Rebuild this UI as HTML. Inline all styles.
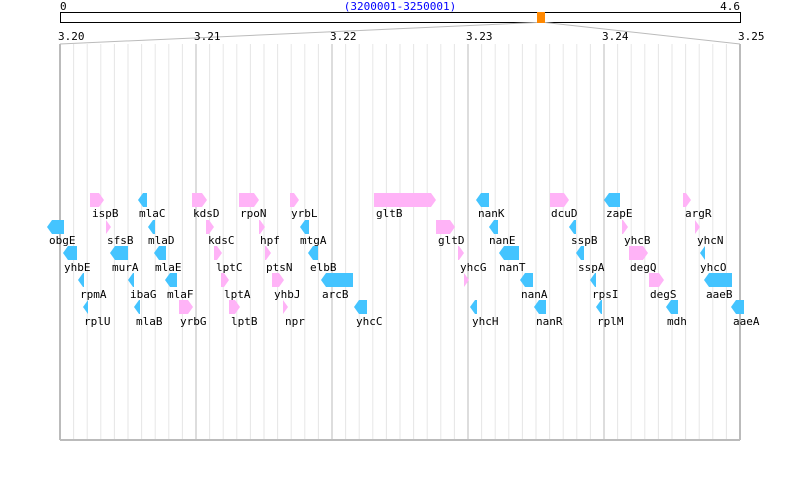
<!DOCTYPE html>
<html><head><meta charset="utf-8"><style>
html,body{margin:0;padding:0;background:#fff;width:800px;height:500px;overflow:hidden}
svg text{font-family:"DejaVu Sans Mono","Liberation Mono",monospace;font-size:11px;fill:#000}
</style></head><body>
<svg id="s" width="800" height="500" xmlns="http://www.w3.org/2000/svg">
<g id="grid"></g>
<rect x="60.5" y="12.5" width="680" height="10" fill="none" stroke="#000" stroke-width="1"/>
<rect x="537" y="12" width="8" height="11" fill="#ff8800"/>
<line x1="537" y1="22.5" x2="60" y2="44" stroke="#bbb"/>
<line x1="545" y1="22.5" x2="740" y2="44" stroke="#bbb"/>
<text x="60" y="10">0</text>
<text x="400" y="10" text-anchor="middle" style="fill:#0000ff">(3200001-3250001)</text>
<text x="740" y="10" text-anchor="end">4.6</text>
<text x="58" y="40">3.20</text>
<text x="194" y="40">3.21</text>
<text x="330" y="40">3.22</text>
<text x="466" y="40">3.23</text>
<text x="602" y="40">3.24</text>
<text x="738" y="40">3.25</text>
<g id="genes"></g>
<g>
<text x="92" y="217">ispB</text><text x="139" y="217">mlaC</text><text x="193" y="217">kdsD</text><text x="240" y="217">rpoN</text><text x="291" y="217">yrbL</text><text x="376" y="217">gltB</text><text x="478" y="217">nanK</text><text x="551" y="217">dcuD</text><text x="606" y="217">zapE</text><text x="685" y="217">argR</text>
<text x="49" y="244">obgE</text><text x="107" y="244">sfsB</text><text x="148" y="244">mlaD</text><text x="208" y="244">kdsC</text><text x="260" y="244">hpf</text><text x="300" y="244">mtgA</text><text x="438" y="244">gltD</text><text x="489" y="244">nanE</text><text x="571" y="244">sspB</text><text x="624" y="244">yhcB</text><text x="697" y="244">yhcN</text>
<text x="64" y="271">yhbE</text><text x="112" y="271">murA</text><text x="155" y="271">mlaE</text><text x="216" y="271">lptC</text><text x="266" y="271">ptsN</text><text x="310" y="271">elbB</text><text x="460" y="271">yhcG</text><text x="499" y="271">nanT</text><text x="578" y="271">sspA</text><text x="630" y="271">degQ</text><text x="700" y="271">yhcO</text>
<text x="80" y="298">rpmA</text><text x="130" y="298">ibaG</text><text x="167" y="298">mlaF</text><text x="224" y="298">lptA</text><text x="274" y="298">yhbJ</text><text x="322" y="298">arcB</text><text x="521" y="298">nanA</text><text x="592" y="298">rpsI</text><text x="650" y="298">degS</text><text x="706" y="298">aaeB</text>
<text x="84" y="325">rplU</text><text x="136" y="325">mlaB</text><text x="180" y="325">yrbG</text><text x="231" y="325">lptB</text><text x="285" y="325">npr</text><text x="356" y="325">yhcC</text><text x="472" y="325">yhcH</text><text x="536" y="325">nanR</text><text x="597" y="325">rplM</text><text x="667" y="325">mdh</text><text x="733" y="325">aaeA</text>
</g>
</svg>
<script>
var NS="http://www.w3.org/2000/svg";
var g=document.getElementById('grid');
function ln(x1,y1,x2,y2,c,w){var l=document.createElementNS(NS,'line');l.setAttribute('x1',x1);l.setAttribute('y1',y1);l.setAttribute('x2',x2);l.setAttribute('y2',y2);l.setAttribute('stroke',c);l.setAttribute('stroke-width',w);g.appendChild(l);}
for(var i=0;i<=50;i++){var x=60+i*13.6;var maj=i%10==0;if(!maj)ln(x,44,x,440,'#e6e6e6',1);}
for(var i=0;i<=5;i++){var x=60+i*136;ln(x,44,x,440,'#bbb',i==0||i==5?2:1);}
ln(60,440,740,440,'#bbb',2);
var ge=document.getElementById('genes');
var P='#ffb3f7',B='#44c4ff';
var rows=[193,220,246,273,300];
var d=[
[0,90,104,1],[0,138,147,0],[0,192,207,1],[0,239,259,1],[0,290,299,1],[0,374,436,1],[0,476,489,0],[0,550,569,1],[0,604,620,0],[0,683,691,1],
[1,47,64,0],[1,106,111,1],[1,148,155,0],[1,206,214,1],[1,259,265,1],[1,300,309,0],[1,436,455,1],[1,489,498,0],[1,569,576,0],[1,622,628,1],[1,695,700,1],
[2,63,77,0],[2,110,128,0],[2,154,166,0],[2,214,222,1],[2,265,271,1],[2,308,318,0],[2,458,464,1],[2,499,519,0],[2,576,584,0],[2,629,648,1],[2,700,705,0],
[3,78,84,0],[3,128,134,0],[3,165,177,0],[3,221,229,1],[3,272,284,1],[3,321,353,0],[3,464,469,1],[3,520,533,0],[3,590,596,0],[3,649,664,1],[3,704,732,0],
[4,83,88,0],[4,134,140,0],[4,179,193,1],[4,229,240,1],[4,283,288,1],[4,354,367,0],[4,470,477,0],[4,534,546,0],[4,596,602,0],[4,666,678,0],[4,731,744,0]];
d.forEach(function(a){var y=rows[a[0]],x1=a[1],x2=a[2],h=14,m=y+h/2,t=Math.min(5,x2-x1);var pts;
if(a[3])pts=[[x1,y],[x2-t,y],[x2,m],[x2-t,y+h],[x1,y+h]];else pts=[[x2,y],[x1+t,y],[x1,m],[x1+t,y+h],[x2,y+h]];
var p=document.createElementNS(NS,'polygon');p.setAttribute('points',pts.map(function(q){return q.join(',')}).join(' '));p.setAttribute('fill',a[3]?P:B);ge.appendChild(p);});
</script>
</body></html>
